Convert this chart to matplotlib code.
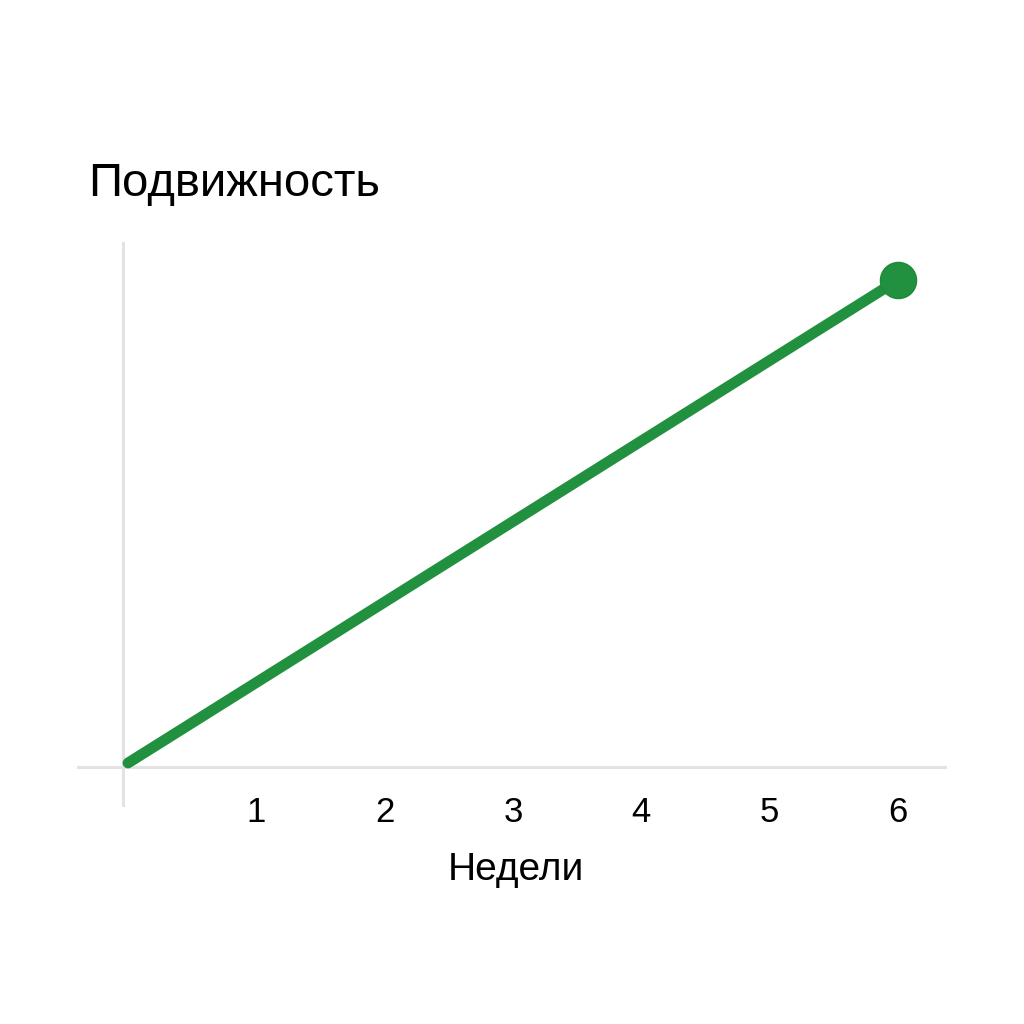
import matplotlib
matplotlib.use("Agg")
import matplotlib.pyplot as plt

weeks = [0, 6]
mobility = [0, 10]
tick_weeks = [1, 2, 3, 4, 5, 6]
tick_labels = ["1", "2", "3", "4", "5", "6"]
title = "Подвижность"
xlabel = "Недели"

plt.rcParams['font.family'] = ['Liberation Sans', 'DejaVu Sans']

W = 1024
fig = plt.figure(figsize=(10.24, 10.24), dpi=100)
ax = fig.add_axes([78 / W, 1 - 767 / W, 867 / W, (767 - 243) / W])
unit_x = 770 / 6
unit_y = 483 / 10
ax.set_xlim(-(128 - 78) / unit_x, 6 + (945 - 898) / unit_x)
ymin = -(767 - 763) / unit_y
ax.set_ylim(ymin, 10 + (280 - 243) / unit_y)
for s in ax.spines.values():
    s.set_visible(False)

grey = "#e3e3e3"
ax.axhline(ymin, color=grey, lw=2.2, zorder=1, clip_on=False)
vx = -(128 - 123) / unit_x
ax.plot([vx, vx], [-(805 - 763) / unit_y, 10 + (280 - 243) / unit_y],
        color=grey, lw=2.2, zorder=1, clip_on=False)

green = "#22913F"
ax.plot(weeks, mobility, color=green, lw=7.8, solid_capstyle="round", zorder=3,
        clip_on=False)
ax.plot(weeks[-1:], mobility[-1:], "o", color=green, markersize=26,
        markeredgecolor="#1c8a38", markeredgewidth=1, zorder=4, clip_on=False)

ax.set_xticks(tick_weeks)
ax.set_xticklabels(tick_labels, fontsize=25)
ax.tick_params(axis="x", length=0, pad=21)
ax.set_yticks([])

fig.text(88 / W, 1 - 184 / W, title, fontsize=34, ha="left", va="center")
fig.text(516 / W, 1 - 870 / W, xlabel, fontsize=28, ha="center", va="center")

fig.savefig("out.png", dpi=100, facecolor="white")
